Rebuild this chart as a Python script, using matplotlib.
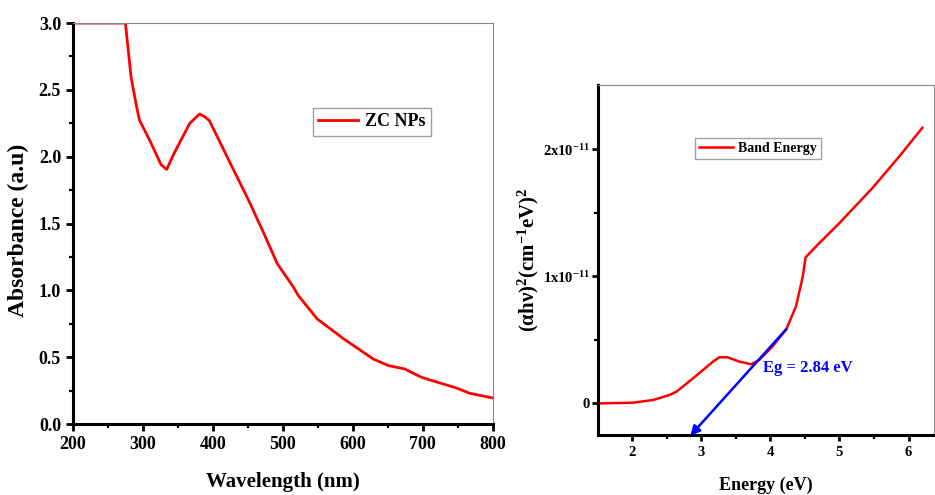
import numpy as np
import matplotlib
matplotlib.use("Agg")
import matplotlib.pyplot as plt
from matplotlib.ticker import MultipleLocator, FixedLocator

plt.rcParams['font.family'] = ['Liberation Serif', 'DejaVu Serif']
plt.rcParams['font.weight'] = 'bold'
plt.rcParams['mathtext.fontset'] = 'custom'
plt.rcParams['mathtext.rm'] = 'Liberation Serif:bold'
plt.rcParams['mathtext.bf'] = 'Liberation Serif:bold'
plt.rcParams['mathtext.it'] = 'Liberation Serif:bold'

# UV-Vis absorbance spectrum
wavelength = [200, 275, 276, 278, 283, 290, 295, 310, 326, 334, 345, 367, 381, 388, 395,
              425, 451, 473, 492, 515, 522, 549, 587, 601, 629, 651, 674, 698, 710,
              748, 767, 800]
absorbance = [3.0, 3.0, 2.95, 2.85, 2.6, 2.4, 2.275, 2.12, 1.94, 1.905, 2.03, 2.25, 2.32, 2.30,
              2.27, 1.95, 1.675, 1.425, 1.2, 1.025, 0.962, 0.787, 0.637, 0.587, 0.487,
              0.437, 0.412, 0.35, 0.33, 0.27, 0.23, 0.195]

# Tauc plot (values in units of 1e-11)
energy = [1.55, 2.0, 2.3, 2.54, 2.64, 2.88, 3.17, 3.26, 3.38, 3.55, 3.72, 3.84, 4.03,
          4.23, 4.37, 4.47, 4.51, 4.71, 5.0, 5.48, 5.87, 6.2]
tauc = [0.0, 0.005, 0.026, 0.066, 0.092, 0.197, 0.329, 0.363, 0.363, 0.329, 0.308,
        0.342, 0.447, 0.584, 0.763, 1.0, 1.15, 1.263, 1.42, 1.697, 1.947, 2.17]
tauc_scale = 1e-11
eg_value = 2.84
fit_start = (4.23, 0.584)

fig = plt.figure(figsize=(9.35, 4.95), dpi=100)
red = '#ff0000'

def style_axes(ax, major_len=5, minor_len=3):
    for s in ('left', 'bottom'):
        ax.spines[s].set_linewidth(2.2)
        ax.spines[s].set_color('black')
    for s in ('top', 'right'):
        ax.spines[s].set_linewidth(0.8)
        ax.spines[s].set_color('#888888')
    ax.tick_params(which='major', direction='out', length=major_len, width=2.0,
                   top=False, right=False)
    ax.tick_params(which='minor', direction='out', length=minor_len, width=1.6,
                   top=False, right=False)

# Left panel
ax1 = fig.add_axes([0.078, 0.1434, 0.449, 0.810])
ax1.plot(wavelength, absorbance, color=red, lw=2.0, label='ZC NPs')
ax1.set_xlim(200, 800)
ax1.set_ylim(0, 3.0)
ax1.xaxis.set_major_locator(MultipleLocator(100))
ax1.xaxis.set_minor_locator(MultipleLocator(50))
ax1.yaxis.set_major_locator(MultipleLocator(0.5))
ax1.yaxis.set_minor_locator(MultipleLocator(0.25))
ax1.yaxis.set_major_formatter(matplotlib.ticker.FormatStrFormatter('%.1f'))
style_axes(ax1)
for lab in ax1.get_xticklabels() + ax1.get_yticklabels():
    lab.set_fontsize(13)
    lab.set_fontweight('bold')
ax1.set_xlabel('Wavelength (nm)', fontsize=15, fontweight='bold', labelpad=14)
ax1.set_ylabel('Absorbance (a.u)', fontsize=17, fontweight='bold')
ax1.yaxis.set_label_coords(-0.105, 0.484)
leg1 = ax1.legend(loc='upper left', bbox_to_anchor=(0.571, 0.788), fontsize=13,
                  frameon=True, fancybox=False, handlelength=2.2, borderpad=0.3,
                  handletextpad=0.4, borderaxespad=0)
leg1.get_frame().set_edgecolor('#888888')
leg1.get_frame().set_linewidth(1.0)

# Right panel
ax2 = fig.add_axes([0.640, 0.121, 0.359, 0.707])
ax2.plot(energy, np.array(tauc) * tauc_scale, color=red, lw=1.8, label='Band Energy')
ax2.set_xlim(1.51, 6.37)
ax2.set_ylim(-0.25 * tauc_scale, 2.506 * tauc_scale)
ax2.xaxis.set_major_locator(MultipleLocator(1))
ax2.xaxis.set_minor_locator(MultipleLocator(0.5))
ax2.yaxis.set_major_locator(FixedLocator([0, 1e-11, 2e-11]))
ax2.yaxis.set_minor_locator(FixedLocator([0.5e-11, 1.5e-11]))
ax2.set_yticklabels(['0', r'$\mathbf{1x10^{-11}}$', r'$\mathbf{2x10^{-11}}$'])
style_axes(ax2, major_len=4, minor_len=3)
for lab in ax2.get_xticklabels():
    lab.set_fontsize(10.5)
    lab.set_fontweight('bold')
for lab in ax2.get_yticklabels():
    lab.set_fontsize(10.5)
    lab.set_fontweight('bold')
ax2.tick_params(axis='y', which='major', pad=2)
ax2.set_xlabel('Energy (eV)', fontsize=13, fontweight='bold', labelpad=13)
ax2.set_ylabel(r'$\mathbf{(\alpha h\nu)^2(cm^{-1}eV)^2}$', fontsize=15)
ax2.yaxis.set_label_coords(-0.17, 0.5)
leg2 = ax2.legend(loc='upper left', bbox_to_anchor=(0.288, 0.849), fontsize=10,
                  frameon=True, fancybox=False, handlelength=2.4, borderpad=0.3,
                  handletextpad=0.4, borderaxespad=0)
leg2.get_frame().set_edgecolor('#888888')
leg2.get_frame().set_linewidth(1.0)

# Linear extrapolation to the band gap
ax2.annotate('', xy=(eg_value, -0.255 * tauc_scale),
             xytext=(fit_start[0], fit_start[1] * tauc_scale),
             arrowprops=dict(arrowstyle='-|>', color='blue', lw=1.8,
                             mutation_scale=14, shrinkA=0, shrinkB=0),
             annotation_clip=False)
ax2.text(3.9, 0.276 * tauc_scale, f'Eg = {eg_value} eV', color='blue', fontsize=12,
         fontweight='bold', va='center', ha='left')

fig.savefig('out.png', dpi=100)
